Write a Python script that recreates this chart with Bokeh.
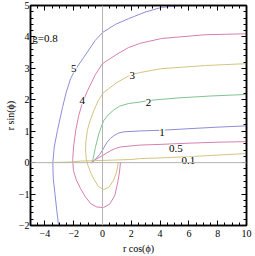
from bokeh.plotting import figure
from bokeh.models import Span, LinearAxis, SingleIntervalTicker, CustomJSTickFormatter, Range1d
from bokeh.embed import file_html
from bokeh.resources import INLINE
from bokeh.core.properties import value

# ---- data ----
curve5_x = [5.5, 4.1, 2.96, 1.8, 0.9, 0.0, -0.5, -1.3, -1.9, -2.22, -2.52, -2.78, -3.13, -3.35, -3.45, -3.42, -3.3, -3.18, -3.05]
curve5_y = [5.0, 4.94, 4.79, 4.58, 4.4, 4.14, 3.89, 3.35, 2.95, 2.67, 2.24, 1.75, 1.02, 0.5, 0.0, -0.5, -1.0, -1.5, -2.0]

curve4_x = [10, 7.15, 4.1, 2.64, 1.8, 1.0, 0.0, -0.5, -1.04, -1.4, -1.65, -1.85, -2.0, -2.07, -2.02, -1.82, -1.53, -1.2, -0.83, -0.4, 0.07, 0.5, 0.85, 1.05, 1.18, 1.25]
curve4_y = [4.1, 4.07, 3.95, 3.8, 3.66, 3.45, 3.15, 2.8, 2.29, 1.9, 1.5, 1.05, 0.55, 0.1, -0.25, -0.55, -0.82, -1.08, -1.3, -1.41, -1.43, -1.32, -1.05, -0.65, -0.3, 0.02]

curve3_x = [10, 7.15, 4.1, 2.64, 1.94, 1.0, 0.07, -0.3, -0.6, -0.85, -1.04, -1.15, -1.18, -1.12, -1.0, -0.82, -0.6, -0.3, 0.07, 0.45, 0.76, 0.98, 1.1]
curve3_y = [3.15, 3.09, 2.99, 2.87, 2.79, 2.55, 2.23, 1.97, 1.66, 1.35, 1.05, 0.7, 0.4, 0.1, -0.1, -0.32, -0.52, -0.75, -0.86, -0.78, -0.57, -0.3, 0.02]

curve2_x = [10, 7.5, 5.3, 3.2, 2.64, 1.8, 1.2, 0.79, 0.4, 0.09, -0.1, -0.26, -0.49, -0.65, -0.75]
curve2_y = [2.17, 2.12, 2.06, 1.98, 1.93, 1.88, 1.8, 1.68, 1.52, 1.34, 1.12, 0.91, 0.49, 0.12, 0.0]

curve1_x = [10, 8, 6.0, 4.1, 2.64, 1.48, 1.1, 0.79, 0.55, 0.32, 0.1, -0.02, -0.2, -0.37, -0.55, -0.72]
curve1_y = [1.17, 1.13, 1.08, 1.03, 1.01, 0.98, 0.94, 0.86, 0.77, 0.65, 0.48, 0.38, 0.26, 0.17, 0.08, 0.0]

curve05_x = [10, 8, 6.0, 4.0, 2.64, 1.25, 0.9, 0.56, -0.02, -0.49, -0.75]
curve05_y = [0.67, 0.65, 0.62, 0.58, 0.56, 0.5, 0.45, 0.38, 0.22, 0.1, 0.0]

curve01_x = [-3.8, -2.2, -1.53, 0.0, 2.0, 2.64, 4.0, 6.0, 8.0, 10.0]
curve01_y = [0.0, 0.02, 0.05, 0.07, 0.1, 0.13, 0.15, 0.19, 0.24, 0.29]

curve_colors = ["#8080d4", "#d070a6", "#d0bc70", "#70bc82", "#8080d4", "#d070a6", "#d0bc70"]

label_text = ["5", "4", "3", "2", "1", "0.5", "0.1"]
label_x = [-1.99, -1.41, 2.06, 3.19, 4.14, 5.1, 5.97]
label_y = [2.98, 1.97, 2.77, 1.92, 0.97, 0.46, 0.08]

note_text = ["g=0.8"]
note_x = [-4.88]
note_y = [3.98]

x_ticks = [-4, -2, 0, 2, 4, 6, 8, 10]
x_tick_labels = ["\u22124", "\u22122", "0", "2", "4", "6", "8", "10"]
y_ticks = [-2, -1, 0, 1, 2, 3, 4, 5]
y_tick_labels = ["\u22122", "\u22121", "0", "1", "2", "3", "4", "5"]

x_label = "r cos(\u03d5)"
y_label = "r sin(\u03d5)"

FONT = "Liberation Serif"

p = figure(width=255, height=256, output_backend="svg", toolbar_location=None,
           x_range=Range1d(-5, 10), y_range=Range1d(-2, 5),
           min_border_left=30, min_border_right=9, min_border_top=5, min_border_bottom=31)
p.xgrid.visible = False
p.ygrid.visible = False
p.background_fill_color = "white"
p.border_fill_color = "white"
p.outline_line_color = "black"
p.outline_line_width = 1.5

p.xaxis.ticker = SingleIntervalTicker(interval=2, num_minor_ticks=4)
p.yaxis.ticker = SingleIntervalTicker(interval=1, num_minor_ticks=5)
p.xaxis.major_label_overrides = dict(zip(x_ticks, x_tick_labels))
p.yaxis.major_label_overrides = dict(zip(y_ticks, y_tick_labels))
p.xaxis.axis_label = x_label
p.yaxis.axis_label = y_label

for ax in [p.xaxis[0], p.yaxis[0]]:
    ax.axis_line_color = "black"
    ax.axis_line_width = 1.5
    ax.major_tick_in = 5
    ax.major_tick_out = 0
    ax.minor_tick_in = 3
    ax.minor_tick_out = 0
    ax.major_tick_line_color = "black"
    ax.minor_tick_line_color = "black"
    ax.major_label_text_font = FONT
    ax.major_label_text_font_size = "10px"
    ax.major_label_text_color = "black"
    ax.axis_label_text_font = FONT
    ax.axis_label_text_font_size = "10px"
    ax.axis_label_text_font_style = "normal"
    ax.axis_label_text_color = "black"
p.xaxis.major_label_standoff = 4
p.xaxis.axis_label_standoff = 3
p.yaxis.major_label_standoff = 1
p.yaxis.axis_label_standoff = 0

top_ax = LinearAxis(ticker=SingleIntervalTicker(interval=2, num_minor_ticks=4), formatter=CustomJSTickFormatter(code="return ''"))
right_ax = LinearAxis(ticker=SingleIntervalTicker(interval=1, num_minor_ticks=5), formatter=CustomJSTickFormatter(code="return ''"))
for ax in [top_ax, right_ax]:
    ax.axis_line_color = "black"
    ax.axis_line_width = 1.5
    ax.major_tick_in = 5
    ax.major_tick_out = 0
    ax.minor_tick_in = 3
    ax.minor_tick_out = 0
    ax.major_label_text_font_size = "0px"
    ax.major_label_standoff = 0
p.add_layout(top_ax, "above")
p.add_layout(right_ax, "right")

p.add_layout(Span(location=0, dimension="width", line_color="#b4b4b4", line_width=1))
p.add_layout(Span(location=0, dimension="height", line_color="#b4b4b4", line_width=1))

curves = [(curve5_x, curve5_y), (curve4_x, curve4_y), (curve3_x, curve3_y), (curve2_x, curve2_y),
          (curve1_x, curve1_y), (curve05_x, curve05_y), (curve01_x, curve01_y)]
for (cx, cy), col in zip(curves, curve_colors):
    p.line(cx, cy, line_color=col, line_width=0.9)

p.text(x=label_x, y=label_y, text=label_text, text_font=value(FONT), text_font_size="11px",
       text_align="center", text_baseline="middle", text_color="black",
       background_fill_color="white")
p.text(x=note_x, y=note_y, text=note_text, text_font=value(FONT), text_font_size="11px",
       text_align="left", text_baseline="middle", text_color="black")

open("out.html", "w").write(file_html(p, INLINE))
